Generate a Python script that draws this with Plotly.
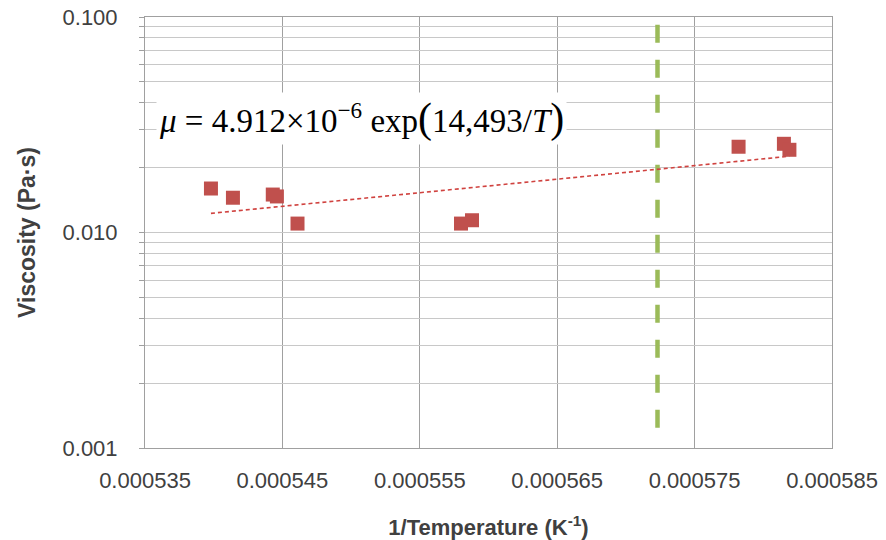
import numpy as np
import plotly.graph_objects as go

# Data
inv_T = [0.0005398, 0.0005414, 0.0005443, 0.0005446, 0.0005461,
         0.0005580, 0.0005588, 0.0005782, 0.0005815, 0.0005819]
viscosity = [0.0160, 0.0145, 0.0150, 0.0147, 0.0110,
             0.0110, 0.0114, 0.0250, 0.0258, 0.0242]

# Trendline coefficients (from the equation shown on the chart)
fit_A = 4.912e-6
fit_B = 14493.0

# Vertical reference line
vline_x = [0.0005723, 0.0005723]
vline_y = [0.00124, 0.1]

x_tickvals = [0.000535, 0.000545, 0.000555, 0.000565, 0.000575, 0.000585]
x_ticktext = ["0.000535", "0.000545", "0.000555", "0.000565", "0.000575", "0.000585"]

y_major = {0.001: "0.001", 0.01: "0.010", 0.1: "0.100"}
y_tickvals = []
y_ticktext = []
for e in (-3, -2):
    for k in range(1, 10):
        v = round(k * 10.0 ** e, 6)
        y_tickvals.append(v)
        y_ticktext.append(y_major.get(v, ""))
y_tickvals.append(0.1)
y_ticktext.append("0.100")

trend_x = [min(inv_T), max(inv_T)]
trend_y = [fit_A * np.exp(fit_B * x) for x in trend_x]

fig = go.Figure()
fig.add_trace(go.Scatter(
    x=vline_x, y=vline_y, mode="lines",
    line=dict(color="#9bbb59", width=4.5, dash="18px,17px"),
    hoverinfo="skip", showlegend=False))
fig.add_trace(go.Scatter(
    x=trend_x, y=trend_y, mode="lines",
    line=dict(color="#d0423f", width=1.6, dash="4px,3px"),
    showlegend=False))
fig.add_trace(go.Scatter(
    x=inv_T, y=viscosity, mode="markers",
    marker=dict(symbol="square", size=14, color="#c0504d", line=dict(width=0)),
    showlegend=False))

fig.add_annotation(
    xref="paper", yref="paper", x=0.016, y=0.764, xanchor="left", yanchor="middle",
    text=("<i>μ</i> = 4.912×10<sup>−6</sup> exp"
          "<span style='font-size:42px'>(</span>14,493/<i>T</i>"
          "<span style='font-size:42px'>)</span>"),
    showarrow=False, bgcolor="white", borderpad=2,
    font=dict(family="Liberation Serif", size=33, color="black"))

fig.update_layout(
    width=886, height=540,
    margin=dict(l=145, r=54, t=17, b=92, autoexpand=False),
    plot_bgcolor="white", paper_bgcolor="white",
    font=dict(family="Liberation Sans", color="#404040"),
)
fig.update_xaxes(
    range=[0.000535, 0.000585], automargin=False,
    tickmode="array", tickvals=x_tickvals, ticktext=x_ticktext,
    showgrid=True, gridcolor="#a0a0a0", gridwidth=1,
    showline=True, linecolor="#a0a0a0", mirror=True,
    zeroline=False, ticks="", ticklabelstandoff=13,
    ticklabeloverflow="allow",
    tickfont=dict(family="Liberation Sans", size=22, color="#404040"),
    title=dict(text="<b>1/Temperature (K<sup>-1</sup>)</b>",
               font=dict(family="Liberation Sans", size=22, color="#404040"),
               standoff=27),
)
fig.update_yaxes(
    type="log", range=[-3, -1], automargin=False,
    tickmode="array", tickvals=y_tickvals, ticktext=y_ticktext,
    showgrid=True, gridcolor="#c8c8c8", gridwidth=1,
    showline=True, linecolor="#a0a0a0", mirror=True,
    zeroline=False, ticks="outside", ticklen=5, tickcolor="#a0a0a0",
    ticklabelstandoff=17, ticklabeloverflow="allow",
    tickfont=dict(family="Liberation Sans", size=22, color="#404040"),
    title=dict(text="<b>Viscosity (Pa·s)</b>",
               font=dict(family="Liberation Sans", size=23, color="#404040"),
               standoff=20),
)

fig.write_html("out.html", config={"displayModeBar": False},
               post_script="document.body.style.margin='0px';")
